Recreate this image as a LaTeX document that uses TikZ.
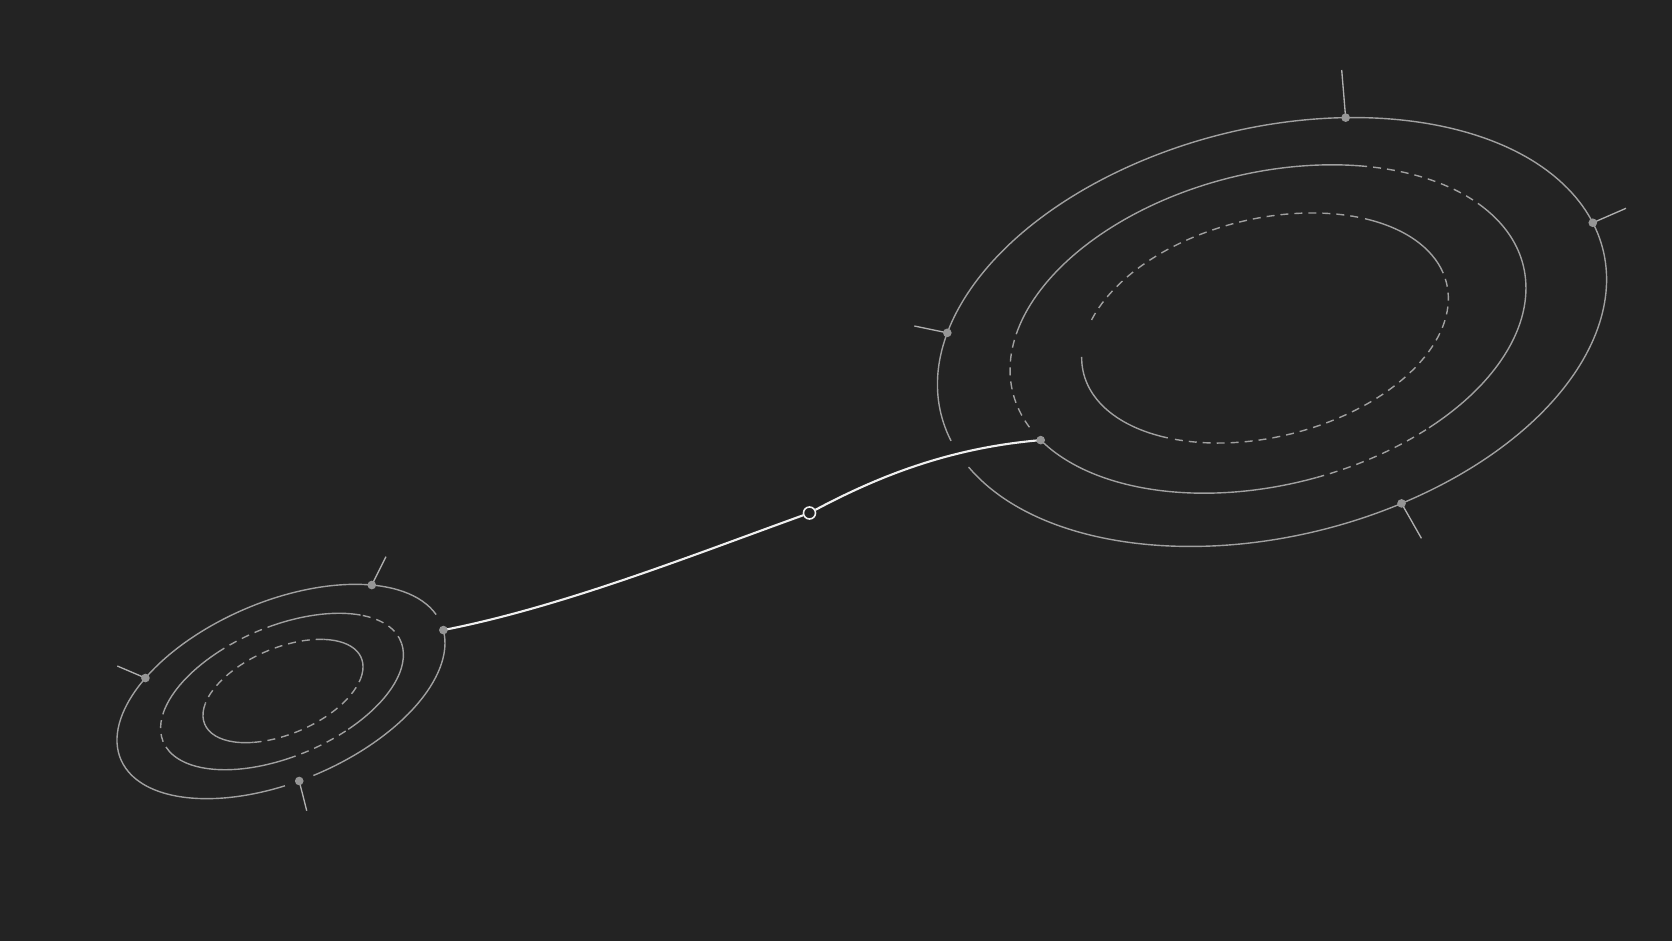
\documentclass[tikz,border=0pt]{standalone}
\usepackage{xcolor}

\begin{document}
\begin{tikzpicture}[x=0.75pt,y=0.75pt,yscale=-1,xscale=1,
  ring/.style={draw={rgb, 255:red, 160; green, 160; blue, 160 },line width=1.05pt},
  dashring/.style={ring,dash pattern=on 6pt off 4.5pt},
  tick/.style={draw={rgb, 255:red, 175; green, 175; blue, 175 },line width=1pt},
  dot/.style={circle,fill={rgb, 255:red, 150; green, 150; blue, 150 },inner sep=0pt,minimum size=6.5pt},
  link/.style={draw={rgb, 255:red, 240; green, 240; blue, 240 },line width=1.6pt},
  hole/.style={circle,draw={rgb, 255:red, 240; green, 240; blue, 240 },line width=1.2pt,fill={rgb, 255:red, 35; green, 35; blue, 35 },inner sep=0pt,minimum size=9pt}]

%Background
\fill [color={rgb, 255:red, 35; green, 35; blue, 35 }] (0,0) rectangle (1672,941) ;
\useasboundingbox (0,0) rectangle (1672,941) ;

%Big system, outer ring
\draw [ring, rotate around={-14:(1272,332)}] (1272,332) ++(-196.4:341 and 204) arc [start angle=-196.4, end angle=-547.9, x radius=341, y radius=204] ;
\path [rotate around={-14:(1272,332)}] (1272,332) ++(-68.8:341 and 204) coordinate (bigtop) (1272,332) ++(-8:341 and 204) coordinate (bigright) (1272,332) ++(-157.6:341 and 204) coordinate (bigleft) (1272,332) ++(-284.3:341 and 204) coordinate (bigbottom) ;

%Big system, middle ring
\draw [ring, rotate around={-14:(1268,329)}] (1268,329) ++(-59.3:263 and 156) arc [start angle=-59.3, end angle=-156.4, x radius=263, y radius=156] ;
\draw [dashring, rotate around={-14:(1268,329)}] (1268,329) ++(-156.4:263 and 156) arc [start angle=-156.4, end angle=-194.2, x radius=263, y radius=156] ;
\draw [ring, rotate around={-14:(1268,329)}] (1268,329) ++(-199.8:263 and 156) coordinate (bigconn) arc [start angle=-199.8, end angle=-272.4, x radius=263, y radius=156] ;
\draw [dashring, rotate around={-14:(1268,329)}] (1268,329) ++(-272.4:263 and 156) arc [start angle=-272.4, end angle=-300.2, x radius=263, y radius=156] ;
\draw [ring, rotate around={-14:(1268,329)}] (1268,329) ++(-300.2:263 and 156) arc [start angle=-300.2, end angle=-384.6, x radius=263, y radius=156] ;
\draw [dashring, rotate around={-14:(1268,329)}] (1268,329) ++(-384.6:263 and 156) arc [start angle=-384.6, end angle=-419.3, x radius=263, y radius=156] ;

%Big system, inner ring
\draw [ring, rotate around={-14:(1265,328)}] (1265,328) ++(-5.3:187 and 109) arc [start angle=-5.3, end angle=-48.7, x radius=187, y radius=109] ;
\draw [dashring, rotate around={-14:(1265,328)}] (1265,328) ++(-51.2:187 and 109) arc [start angle=-51.2, end angle=-155.4, x radius=187, y radius=109] ;
\draw [ring, rotate around={-14:(1265,328)}] (1265,328) ++(-171.4:187 and 109) arc [start angle=-171.4, end angle=-229.7, x radius=187, y radius=109] ;
\draw [dashring, rotate around={-14:(1265,328)}] (1265,328) ++(-232.3:187 and 109) arc [start angle=-232.3, end angle=-363, x radius=187, y radius=109] ;

%Small system, outer ring
\draw [ring, rotate around={-23:(281,691.5)}] (281,691.5) ++(-6.5:174 and 90) arc [start angle=-6.5, end angle=-259, x radius=174, y radius=90] ;
\draw [ring, rotate around={-23:(281,691.5)}] (281,691.5) ++(-269:174 and 90) arc [start angle=-269, end angle=-355.6, x radius=174, y radius=90] ;
\path [rotate around={-23:(281,691.5)}] (281,691.5) ++(-44:174 and 90) coordinate (smalltop) (281,691.5) ++(4.4:174 and 90) coordinate (smallconn) (281,691.5) ++(-133.4:174 and 90) coordinate (smallleft) (281,691.5) ++(-264:174 and 90) coordinate (smallbottom) ;

%Small system, middle ring
\draw [ring, rotate around={-23:(282,691.5)}] (282,691.5) ++(-37.6:129 and 65) arc [start angle=-37.6, end angle=-81.2, x radius=129, y radius=65] ;
\draw [dashring, rotate around={-23:(282,691.5)}] (282,691.5) ++(-81.2:129 and 65) arc [start angle=-81.2, end angle=-108.5, x radius=129, y radius=65] ;
\draw [ring, rotate around={-23:(282,691.5)}] (282,691.5) ++(-108.5:129 and 65) arc [start angle=-108.5, end angle=-151.2, x radius=129, y radius=65] ;
\draw [dashring, rotate around={-23:(282,691.5)}] (282,691.5) ++(-151.2:129 and 65) arc [start angle=-151.2, end angle=-183, x radius=129, y radius=65] ;
\draw [ring, rotate around={-23:(282,691.5)}] (282,691.5) ++(-185:129 and 65) arc [start angle=-185, end angle=-260.8, x radius=129, y radius=65] ;
\draw [dashring, rotate around={-23:(282,691.5)}] (282,691.5) ++(-260.8:129 and 65) arc [start angle=-260.8, end angle=-291, x radius=129, y radius=65] ;
\draw [ring, rotate around={-23:(282,691.5)}] (282,691.5) ++(-291:129 and 65) arc [start angle=-291, end angle=-357.9, x radius=129, y radius=65] ;
\draw [dashring, rotate around={-23:(282,691.5)}] (282,691.5) ++(-357.9:129 and 65) arc [start angle=-357.9, end angle=-397.6, x radius=129, y radius=65] ;

%Small system, inner ring
\draw [ring, rotate around={-23:(283,691)}] (283,691) ++(25.9:85 and 43) arc [start angle=25.9, end angle=-47.3, x radius=85, y radius=43] ;
\draw [dashring, rotate around={-23:(283,691)}] (283,691) ++(-47.3:85 and 43) arc [start angle=-47.3, end angle=-154, x radius=85, y radius=43] ;
\draw [ring, rotate around={-23:(283,691)}] (283,691) ++(-154:85 and 43) arc [start angle=-154, end angle=-236.3, x radius=85, y radius=43] ;
\draw [dashring, rotate around={-23:(283,691)}] (283,691) ++(-236.3:85 and 43) arc [start angle=-236.3, end angle=-334.1, x radius=85, y radius=43] ;

%Tick ends
\coordinate (bigtopend) at (1341.7,70) ;
\coordinate (bigrightend) at (1626,208.3) ;
\coordinate (bigleftend) at (914.3,326) ;
\coordinate (bigbottomend) at (1421.4,538.3) ;
\coordinate (smalltopend) at (386,556.7) ;
\coordinate (smallleftend) at (117.3,666) ;
\coordinate (smallbottomend) at (306.7,810.7) ;

%Ticks
\draw [tick] (bigtop) -- (bigtopend) ;
\draw [tick] (bigright) -- (bigrightend) ;
\draw [tick] (bigleft) -- (bigleftend) ;
\draw [tick] (bigbottom) -- (bigbottomend) ;
\draw [tick] (smalltop) -- (smalltopend) ;
\draw [tick] (smallleft) -- (smallleftend) ;
\draw [tick] (smallbottom) -- (smallbottomend) ;

%Link between the two systems
\node [hole] (midhole) at (809.5,513) {} ;
\draw [link] (smallconn) .. controls (561.7,607) and (689.3,556.3) .. (midhole) ;
\draw [link] (midhole) .. controls (890,470) and (960,447) .. (bigconn) ;

%Dots
\node [dot] (bigtopdot) at (bigtop) {} ;
\node [dot] (bigrightdot) at (bigright) {} ;
\node [dot] (bigleftdot) at (bigleft) {} ;
\node [dot] (bigbottomdot) at (bigbottom) {} ;
\node [dot] (bigconndot) at (bigconn) {} ;
\node [dot] (smalltopdot) at (smalltop) {} ;
\node [dot] (smallconndot) at (smallconn) {} ;
\node [dot] (smallleftdot) at (smallleft) {} ;
\node [dot] (smallbottomdot) at (smallbottom) {} ;

\end{tikzpicture}
\end{document}
